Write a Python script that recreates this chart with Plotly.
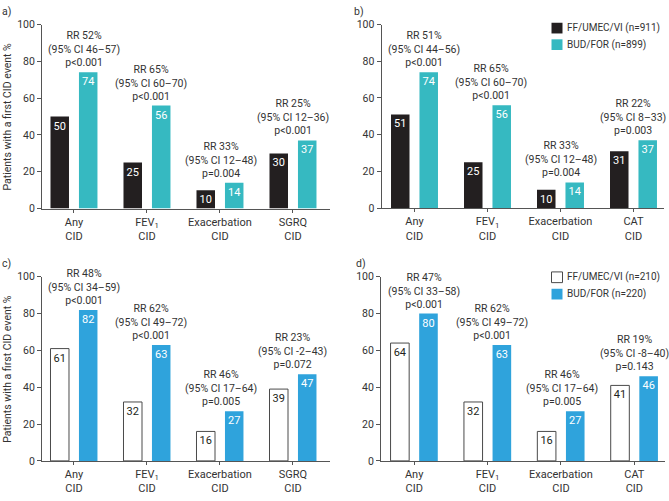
import plotly.graph_objects as go

# ---------------- data ----------------
cats_ac = ["Any<br>CID", "FEV<sub>1</sub><br>CID", "Exacerbation<br>CID", "SGRQ<br>CID"]
cats_bd = ["Any<br>CID", "FEV<sub>1</sub><br>CID", "Exacerbation<br>CID", "CAT<br>CID"]

a_ff = [50, 25, 10, 30]
a_bud = [74, 56, 14, 37]
a_rr = ["RR 52%", "RR 65%", "RR 33%", "RR 25%"]
a_ci = ["(95% CI 46–57)", "(95% CI 60–70)", "(95% CI 12–48)", "(95% CI 12–36)"]
a_p = ["p&lt;0.001", "p&lt;0.001", "p=0.004", "p&lt;0.001"]

b_ff = [51, 25, 10, 31]
b_bud = [74, 56, 14, 37]
b_rr = ["RR 51%", "RR 65%", "RR 33%", "RR 22%"]
b_ci = ["(95% CI 44–56)", "(95% CI 60–70)", "(95% CI 12–48)", "(95% CI 8–33)"]
b_p = ["p&lt;0.001", "p&lt;0.001", "p=0.004", "p=0.003"]

c_ff = [61, 32, 16, 39]
c_bud = [82, 63, 27, 47]
c_rr = ["RR 48%", "RR 62%", "RR 46%", "RR 23%"]
c_ci = ["(95% CI 34–59)", "(95% CI 49–72)", "(95% CI 17–64)", "(95% CI -2–43)"]
c_p = ["p&lt;0.001", "p&lt;0.001", "p=0.005", "p=0.072"]

d_ff = [64, 32, 16, 41]
d_bud = [80, 63, 27, 46]
d_rr = ["RR 47%", "RR 62%", "RR 46%", "RR 19%"]
d_ci = ["(95% CI 33–58)", "(95% CI 49–72)", "(95% CI 17–64)", "(95% CI -8–40)"]
d_p = ["p&lt;0.001", "p&lt;0.001", "p=0.005", "p=0.143"]

legend_bd_top = ["FF/UMEC/VI (n=911)", "BUD/FOR (n=899)"]
legend_bd_bottom = ["FF/UMEC/VI (n=210)", "BUD/FOR (n=220)"]
y_title = "Patients with a first CID event %"
yticks = [0, 20, 40, 60, 80, 100]

# ---------------- style ----------------
W, H = 669, 501
FONT = "Roboto"
TXT = "#333333"
AX = "#555555"
BLACK = "#231f20"
TEAL = "#36b9c1"
BLUE = "#2fa3dc"
ann_xshift = [10, 4, 1, 0]


def fx(p):
    return p / W


def fy(p):
    return 1 - p / H


panels = [
    dict(label="a)", cats=cats_ac, ff=a_ff, bud=a_bud, rr=a_rr, ci=a_ci, p=a_p,
         xd=(42, 330), yd=(19, 208), xr=(-0.438, 3.507), style="dark", lab=(0, 6)),
    dict(label="b)", cats=cats_bd, ff=b_ff, bud=b_bud, rr=b_rr, ci=b_ci, p=b_p,
         xd=(381.5, 664), yd=(19, 207.5), xr=(-0.452, 3.418), style="dark", lab=(352, 6)),
    dict(label="c)", cats=cats_ac, ff=c_ff, bud=c_bud, rr=c_rr, ci=c_ci, p=c_p,
         xd=(42, 330), yd=(278, 467), xr=(-0.438, 3.507), style="light", lab=(0, 264)),
    dict(label="d)", cats=cats_bd, ff=d_ff, bud=d_bud, rr=d_rr, ci=d_ci, p=d_p,
         xd=(381, 665), yd=(278, 467), xr=(-0.452, 3.418), style="light", lab=(354, 264)),
]

fig = go.Figure()
annotations = []
shapes = []

for i, pn in enumerate(panels):
    n = "" if i == 0 else str(i + 1)
    xa, ya = "x" + n, "y" + n
    xpos = list(range(len(pn["cats"])))
    if pn["style"] == "dark":
        ff_marker = dict(color=BLACK, line=dict(width=0))
        ff_font = dict(color="white", size=11, family=FONT)
        bud_color = TEAL
    else:
        ff_marker = dict(color="white", line=dict(color="#4a4a4a", width=1))
        ff_font = dict(color=BLACK, size=11, family=FONT)
        bud_color = BLUE
    fig.add_trace(go.Bar(
        x=xpos, y=pn["ff"], xaxis=xa, yaxis=ya, marker=ff_marker,
        text=pn["ff"], textposition="inside", insidetextanchor="end",
        textangle=0, constraintext="none", insidetextfont=ff_font,
        showlegend=False, hoverinfo="skip"))
    fig.add_trace(go.Bar(
        x=xpos, y=pn["bud"], xaxis=xa, yaxis=ya,
        marker=dict(color=bud_color, line=dict(width=0)),
        text=pn["bud"], textposition="inside", insidetextanchor="end",
        textangle=0, constraintext="none",
        insidetextfont=dict(color="white", size=11, family=FONT),
        showlegend=False, hoverinfo="skip"))

    axis_common = dict(showline=True, linecolor=AX, linewidth=1, showgrid=False,
                       zeroline=False, ticks="outside", tickcolor=AX,
                       tickfont=dict(family=FONT, size=11, color=TXT))
    fig.update_layout(**{
        ("xaxis" + n): dict(axis_common, domain=[fx(pn["xd"][0]), fx(pn["xd"][1])],
                            range=list(pn["xr"]), tickvals=xpos, ticktext=pn["cats"],
                            ticklen=3, anchor=ya),
        ("yaxis" + n): dict(axis_common, domain=[fy(pn["yd"][1]), fy(pn["yd"][0])],
                            range=[0, 100], tickvals=yticks, ticklen=4, anchor=xa,
                            tickfont=dict(family=FONT, size=10.5, color=TXT)),
    })

    for k in xpos:
        top = max(pn["ff"][k], pn["bud"][k])
        annotations.append(dict(
            x=k, y=top, xref=xa, yref=ya, xanchor="center", yanchor="bottom",
            xshift=ann_xshift[k], yshift=1, showarrow=False, align="center",
            text=pn["rr"][k] + "<br>" + pn["ci"][k] + "<br>" + pn["p"][k],
            font=dict(family=FONT, size=10.5, color=TXT)))

    annotations.append(dict(
        x=fx(pn["lab"][0]), y=fy(pn["lab"][1]), xref="paper", yref="paper",
        xanchor="left", yanchor="middle", showarrow=False, text=pn["label"],
        font=dict(family=FONT, size=10.5, color=TXT)))

    if i in (0, 2):
        annotations.append(dict(
            x=fx(8), y=fy((pn["yd"][0] + pn["yd"][1]) / 2), xref="paper", yref="paper",
            xanchor="center", yanchor="middle", textangle=-90, showarrow=False,
            text=y_title, font=dict(family=FONT, size=10.5, color=TXT)))

# manual legends (panels b and d)
legend_specs = [
    (legend_bd_top, [BLACK, TEAL], [None, None], [22.7, 39.7]),
    (legend_bd_bottom, ["white", BLUE], ["#4a4a4a", None], [278.5, 295.8]),
]
for labels, fills, lines, ys in legend_specs:
    for lab, fill, lc, yc in zip(labels, fills, lines, ys):
        shapes.append(dict(
            type="rect", xref="paper", yref="paper",
            x0=fx(551.5), x1=fx(562.5), y0=fy(yc + 5.5), y1=fy(yc - 5.5),
            fillcolor=fill,
            line=dict(color=lc if lc else fill, width=1 if lc else 0)))
        annotations.append(dict(
            x=fx(565), y=fy(yc), xref="paper", yref="paper", xanchor="left",
            yanchor="middle", showarrow=False, text=lab,
            font=dict(family=FONT, size=10, color=TXT)))

fig.update_layout(
    width=W, height=H, autosize=False,
    margin=dict(l=0, r=0, t=0, b=0),
    paper_bgcolor="white", plot_bgcolor="white",
    barmode="group", bargap=0.22, bargroupgap=0.35,
    font=dict(family=FONT, size=11, color=TXT),
    annotations=annotations, shapes=shapes,
    showlegend=False,
)

fig.write_html(
    "out.html",
    config={"displayModeBar": False, "staticPlot": True},
    post_script="document.body.style.margin='0';document.body.style.padding='0';"
                "document.body.style.overflow='hidden';",
)
